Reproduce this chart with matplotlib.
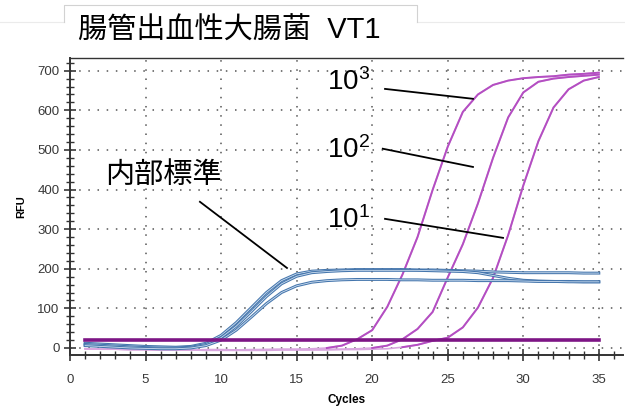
import numpy as np
import matplotlib.pyplot as plt
from matplotlib.lines import Line2D
from matplotlib.ticker import MultipleLocator

plt.rcParams['font.family'] = ['Liberation Sans', 'Noto Sans CJK JP', 'DejaVu Sans']
plt.rcParams['mathtext.fontset'] = 'custom'
plt.rcParams['mathtext.rm'] = 'Liberation Sans'

# cycles and RFU values
cycles = list(range(1, 36))

# internal standard (blue)
ic_a = [12, 10, 8, 6, 4, 3, 2, 4, 12, 32, 64, 102, 140, 170, 187, 194, 196, 197,
        198, 198, 198, 198, 197, 197, 196, 195, 194, 192, 191, 190, 190, 190, 190, 189, 189]
ic_b = [9, 7, 5, 3, 1, 0, 0, 2, 9, 26, 55, 92, 130, 162, 181, 190, 193, 195,
        196, 196, 196, 196, 196, 195, 194, 193, 190, 183, 176, 171, 169, 168, 168, 167, 167]
ic_c = [6, 4, 2, 0, -1, -2, -2, 0, 6, 20, 45, 78, 112, 140, 157, 166, 170, 172,
        173, 173, 173, 172, 172, 171, 171, 171, 170, 170, 170, 169, 168, 168, 167, 167, 167]

# VT1 dilutions (purple)
amp_1e3 = [-2, -3, -3, -4, -4, -5, -5, -5, -4, -4, -5, -5, -4, -3, -3, -2, 0, 6,
           22, 45, 104, 185, 280, 399, 508, 596, 640, 664, 675, 681, 684, 686, 690, 692, 695]
amp_1e2 = [-2, -3, -3, -4, -4, -5, -5, -5, -5, -5, -5, -4, -4, -4, -4, -4, -3, -3,
           -2, 0, 6, 22, 48, 91, 178, 262, 365, 480, 582, 645, 672, 680, 684, 687, 690]
amp_1e1 = [-2, -3, -3, -4, -4, -5, -5, -5, -6, -6, -6, -6, -6, -5, -5, -5, -5, -4,
           -4, -3, -2, 2, 8, 18, 26, 52, 102, 177, 285, 410, 522, 607, 653, 675, 684]

threshold = 20

fig = plt.figure(figsize=(6.25, 4.07), dpi=100)

# header tab at the top
yl = 1 - 22/407
yt = 1 - 5/407
x0, x1 = 64/625, 417/625
edge = '#d2d2d2'
fig.add_artist(Line2D([0, x0], [yl, yl], color='#ebebeb', lw=0.8))
fig.add_artist(Line2D([x1, 1], [yl, yl], color='#ebebeb', lw=0.8))
fig.add_artist(Line2D([x0, x0, x1, x1], [yl, yt, yt, yl], color=edge, lw=0.8))
fig.text(78/625, 1 - 31/407, '腸管出血性大腸菌  VT1', fontsize=21, va='center', ha='left')

ax = fig.add_axes([70/625, 52/407, 553/625, 297/407])

for y in (amp_1e3, amp_1e2, amp_1e1):
    y = np.array(y, dtype=float)
    ax.plot(cycles, y, color='#d9a6df', lw=1.2, zorder=2)
    hi = np.where(y >= 0, y, np.nan)
    ax.plot(cycles, hi, color='#b44ec2', lw=1.4, zorder=3)

for y in (ic_a, ic_b, ic_c):
    ax.plot(cycles, y, color='#4576ad', lw=2.1, zorder=3)
    ax.plot(cycles, y, color='#cfdff0', lw=0.6, zorder=3)

ax.plot([cycles[0], cycles[-1]], [threshold, threshold], color='#7d1585', lw=2.6, zorder=4)

ax.set_xlim(0, 36.6)
ax.set_ylim(-17.7, 732)
ax.xaxis.set_major_locator(MultipleLocator(5))
ax.xaxis.set_minor_locator(MultipleLocator(1))
ax.yaxis.set_major_locator(MultipleLocator(100))
ax.yaxis.set_minor_locator(MultipleLocator(20))
ax.tick_params(which='major', direction='inout', length=9, width=1.2, colors='#383838',
               labelsize=9.5, pad=3)
ax.tick_params(which='minor', direction='inout', length=6, width=1.0, color='#333333')
ax.tick_params(axis='x', which='major', pad=9)
ax.grid(True, which='major', color='#555555', linestyle=(0, (1, 5)), lw=1.1)
for s in ('top', 'left', 'bottom'):
    ax.spines[s].set_color('#333333')
    ax.spines[s].set_linewidth(1.4)
ax.spines['right'].set_visible(False)
ax.spines['top'].set_linewidth(1.0)

ax.set_xlabel('Cycles', fontsize=8.5, fontweight='bold', labelpad=6)
ax.set_ylabel('RFU', fontsize=8, fontweight='bold', labelpad=8)

# annotations
ax.text(2.3, 437, '内部標準', fontsize=21, va='center', ha='left', zorder=5)
ax.plot([8.6, 14.36], [369, 202], color='black', lw=1.3, zorder=5)

ax.text(17.0, 672, r'$\mathregular{10^3}$', fontsize=20, va='center', ha='left', zorder=5)
ax.plot([20.85, 26.67], [654, 629], color='black', lw=1.3, zorder=5)
ax.text(17.0, 500, r'$\mathregular{10^2}$', fontsize=20, va='center', ha='left', zorder=5)
ax.plot([20.7, 26.67], [503, 457], color='black', lw=1.3, zorder=5)
ax.text(17.0, 323, r'$\mathregular{10^1}$', fontsize=20, va='center', ha='left', zorder=5)
ax.plot([20.85, 28.66], [326, 278], color='black', lw=1.3, zorder=5)

fig.savefig('out.png', dpi=100)
